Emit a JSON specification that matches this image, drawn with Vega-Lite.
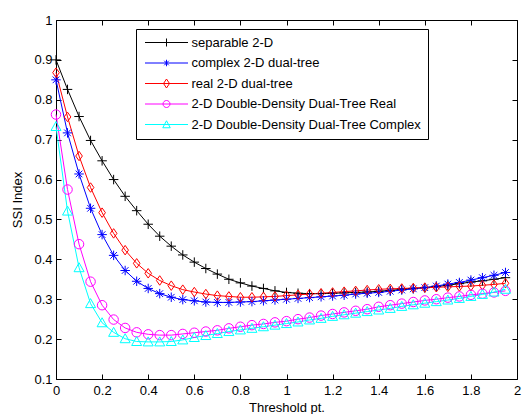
{
  "$schema": "https://vega.github.io/schema/vega-lite/v6.json",
  "width": 461,
  "height": 359,
  "autosize": {"type": "none"},
  "padding": {"left": 56, "top": 20, "right": 5, "bottom": 35},
  "background": "white",
  "config": {"view": {"stroke": "#000", "strokeWidth": 1}},
  "data": {"values": [
    {"t": 0, "a": 0.900, "b": 0.850, "c": 0.868, "d": 0.763, "e": 0.733},
    {"t": 0.05, "a": 0.826, "b": 0.717, "c": 0.757, "d": 0.575, "e": 0.521},
    {"t": 0.1, "a": 0.758, "b": 0.614, "c": 0.659, "d": 0.438, "e": 0.379},
    {"t": 0.15, "a": 0.698, "b": 0.528, "c": 0.580, "d": 0.344, "e": 0.289},
    {"t": 0.2, "a": 0.647, "b": 0.462, "c": 0.517, "d": 0.285, "e": 0.241},
    {"t": 0.25, "a": 0.600, "b": 0.410, "c": 0.465, "d": 0.249, "e": 0.217},
    {"t": 0.3, "a": 0.558, "b": 0.372, "c": 0.423, "d": 0.228, "e": 0.201},
    {"t": 0.35, "a": 0.522, "b": 0.345, "c": 0.390, "d": 0.217, "e": 0.194},
    {"t": 0.4, "a": 0.488, "b": 0.327, "c": 0.365, "d": 0.212, "e": 0.193},
    {"t": 0.45, "a": 0.458, "b": 0.314, "c": 0.347, "d": 0.210, "e": 0.193},
    {"t": 0.5, "a": 0.433, "b": 0.305, "c": 0.334, "d": 0.210, "e": 0.194},
    {"t": 0.55, "a": 0.411, "b": 0.299, "c": 0.324, "d": 0.213, "e": 0.198},
    {"t": 0.6, "a": 0.393, "b": 0.296, "c": 0.318, "d": 0.216, "e": 0.204},
    {"t": 0.65, "a": 0.377, "b": 0.293, "c": 0.313, "d": 0.219, "e": 0.209},
    {"t": 0.7, "a": 0.363, "b": 0.292, "c": 0.309, "d": 0.222, "e": 0.214},
    {"t": 0.75, "a": 0.350, "b": 0.292, "c": 0.307, "d": 0.227, "e": 0.219},
    {"t": 0.8, "a": 0.341, "b": 0.293, "c": 0.305, "d": 0.231, "e": 0.223},
    {"t": 0.85, "a": 0.333, "b": 0.294, "c": 0.305, "d": 0.235, "e": 0.227},
    {"t": 0.9, "a": 0.327, "b": 0.296, "c": 0.306, "d": 0.238, "e": 0.231},
    {"t": 0.95, "a": 0.321, "b": 0.298, "c": 0.307, "d": 0.242, "e": 0.235},
    {"t": 1.0, "a": 0.317, "b": 0.300, "c": 0.309, "d": 0.245, "e": 0.239},
    {"t": 1.05, "a": 0.315, "b": 0.302, "c": 0.311, "d": 0.250, "e": 0.243},
    {"t": 1.1, "a": 0.314, "b": 0.304, "c": 0.313, "d": 0.254, "e": 0.248},
    {"t": 1.15, "a": 0.314, "b": 0.306, "c": 0.315, "d": 0.259, "e": 0.252},
    {"t": 1.2, "a": 0.315, "b": 0.308, "c": 0.317, "d": 0.263, "e": 0.257},
    {"t": 1.25, "a": 0.316, "b": 0.310, "c": 0.319, "d": 0.267, "e": 0.261},
    {"t": 1.3, "a": 0.317, "b": 0.313, "c": 0.321, "d": 0.271, "e": 0.265},
    {"t": 1.35, "a": 0.318, "b": 0.315, "c": 0.323, "d": 0.275, "e": 0.269},
    {"t": 1.4, "a": 0.320, "b": 0.317, "c": 0.325, "d": 0.281, "e": 0.273},
    {"t": 1.45, "a": 0.322, "b": 0.320, "c": 0.326, "d": 0.285, "e": 0.277},
    {"t": 1.5, "a": 0.325, "b": 0.323, "c": 0.327, "d": 0.289, "e": 0.282},
    {"t": 1.55, "a": 0.327, "b": 0.326, "c": 0.328, "d": 0.293, "e": 0.286},
    {"t": 1.6, "a": 0.329, "b": 0.329, "c": 0.329, "d": 0.297, "e": 0.290},
    {"t": 1.65, "a": 0.332, "b": 0.333, "c": 0.330, "d": 0.300, "e": 0.294},
    {"t": 1.7, "a": 0.335, "b": 0.338, "c": 0.331, "d": 0.304, "e": 0.298},
    {"t": 1.75, "a": 0.339, "b": 0.342, "c": 0.332, "d": 0.307, "e": 0.302},
    {"t": 1.8, "a": 0.343, "b": 0.348, "c": 0.333, "d": 0.311, "e": 0.307},
    {"t": 1.85, "a": 0.346, "b": 0.354, "c": 0.335, "d": 0.314, "e": 0.312},
    {"t": 1.9, "a": 0.350, "b": 0.360, "c": 0.337, "d": 0.317, "e": 0.318},
    {"t": 1.95, "a": 0.354, "b": 0.367, "c": 0.340, "d": 0.321, "e": 0.325}
  ]},
  "transform": [{"fold": ["a", "b", "c", "d", "e"], "as": ["s", "v"]}],
  "encoding": {
    "x": {"field": "t", "type": "quantitative",
      "scale": {"domain": [0, 2], "nice": false, "zero": false}},
    "y": {"field": "v", "type": "quantitative",
      "scale": {"domain": [0.1, 1], "nice": false, "zero": false}},
    "color": {"field": "s", "type": "nominal",
      "scale": {"domain": ["a", "b", "c", "d", "e"], "range": ["#000000", "#0000ff", "#ff0000", "#ff00ff", "#00ffff"]}}
  },
  "layer": [
    {
      "mark": {"type": "line", "strokeWidth": 1},
      "encoding": {
        "x": {"field": "t", "type": "quantitative",
          "scale": {"domain": [0, 2], "nice": false, "zero": false},
          "axis": {"orient": "bottom", "values": [0, 0.2, 0.4, 0.6, 0.8, 1, 1.2, 1.4, 1.6, 1.8, 2], "format": "~g",
            "title": "Threshold pt.", "tickSize": -5, "labelPadding": 10, "domain": false, "grid": false,
            "tickColor": "#000", "labelFont": "Liberation Sans", "labelFontSize": 13, "labelColor": "#000",
            "labelFlush": false, "labelOverlap": false,
            "titleFont": "Liberation Sans", "titleFontSize": 13, "titleFontWeight": "normal", "titleColor": "#000", "titlePadding": 4}},
        "y": {"field": "v", "type": "quantitative",
          "scale": {"domain": [0.1, 1], "nice": false, "zero": false},
          "axis": {"orient": "left", "values": [0.1, 0.2, 0.3, 0.4, 0.5, 0.6, 0.7, 0.8, 0.9, 1], "format": "~g",
            "title": "SSI Index", "tickSize": -5, "labelPadding": 9, "domain": false, "grid": false,
            "tickColor": "#000", "labelFont": "Liberation Sans", "labelFontSize": 13, "labelColor": "#000",
            "labelFlush": false, "labelOverlap": false,
            "titleFont": "Liberation Sans", "titleFontSize": 13, "titleFontWeight": "normal", "titleColor": "#000", "titlePadding": 9}},
        "color": {"field": "s", "type": "nominal",
          "legend": {
            "orient": "none", "legendX": 80, "legendY": 9, "title": null,
            "strokeColor": "#000", "fillColor": "#fff", "padding": 7,
            "symbolSize": 100, "symbolStrokeWidth": 1, "symbolType": "M-1,0L1,0", "symbolOffset": 17,
            "labelFont": "Liberation Sans", "labelFontSize": 13, "labelColor": "#000", "labelOffset": 18.5,
            "labelLimit": 0, "rowPadding": 6.5,
            "labelExpr": "datum.value == 'a' ? 'separable 2-D' : datum.value == 'b' ? '\u00a0complex 2-D dual-tree' : datum.value == 'c' ? '\u00a0real 2-D dual-tree' : datum.value == 'd' ? '2-D Double-Density Dual-Tree Real' : '2-D Double-Density Dual-Tree Complex'",
            "encode": {"symbols": {"update": {
              "shape": {"signal": "datum.value == 'a' ? 'M-4.3,0L4.3,0M0,-0.8L0,0.8' : datum.value == 'b' ? 'M-4.3,0L4.3,0M0,-0.65L0,0.65M-0.45,-0.45L0.45,0.45M-0.45,0.45L0.45,-0.45' : datum.value == 'c' ? 'M-4.3,0L4.3,0M0,-0.9L0.6,0L0,0.9L-0.6,0Z' : datum.value == 'd' ? 'M-4.3,0L4.3,0M0.7,0A0.7,0.7,0,1,1,-0.7,0A0.7,0.7,0,1,1,0.7,0' : 'M-4.3,0L4.3,0M0,-0.75L0.75,0.65L-0.75,0.65Z'"},
              "fill": {"value": "transparent"},
              "opacity": {"value": 1}
            }}}
          }}
      }
    },
    {
      "transform": [{"filter": {"field": "s", "equal": "a"}}],
      "mark": {"type": "point", "filled": false, "size": 90, "strokeWidth": 1, "opacity": 1, "shape": "M-1,0L1,0M0,-1L0,1"},
      "encoding": {
        "x": {"field": "t", "type": "quantitative",
          "scale": {"domain": [0, 2], "nice": false, "zero": false},
          "axis": {"orient": "top", "values": [0, 0.2, 0.4, 0.6, 0.8, 1, 1.2, 1.4, 1.6, 1.8, 2], "labels": false, "title": null,
            "tickSize": -5, "domain": false, "grid": false, "tickColor": "#000"}},
        "y": {"field": "v", "type": "quantitative",
          "scale": {"domain": [0.1, 1], "nice": false, "zero": false},
          "axis": {"orient": "right", "values": [0.1, 0.2, 0.3, 0.4, 0.5, 0.6, 0.7, 0.8, 0.9, 1], "labels": false, "title": null,
            "tickSize": -5, "domain": false, "grid": false, "tickColor": "#000"}}
      }
    },
    {
      "transform": [{"filter": {"field": "s", "equal": "b"}}],
      "mark": {"type": "point", "filled": false, "size": 90, "strokeWidth": 1, "opacity": 1, "shape": "M-1,0L1,0M0,-1L0,1M-0.7,-0.7L0.7,0.7M-0.7,0.7L0.7,-0.7"},
      "encoding": {"x": {"field": "t", "type": "quantitative", "axis": null}, "y": {"field": "v", "type": "quantitative", "axis": null}}
    },
    {
      "transform": [{"filter": {"field": "s", "equal": "c"}}],
      "mark": {"type": "point", "filled": false, "size": 90, "strokeWidth": 1, "opacity": 1, "shape": "M0,-1L0.7,0L0,1L-0.7,0Z"},
      "encoding": {"x": {"field": "t", "type": "quantitative", "axis": null}, "y": {"field": "v", "type": "quantitative", "axis": null}}
    },
    {
      "transform": [{"filter": {"field": "s", "equal": "d"}}],
      "mark": {"type": "point", "filled": false, "size": 90, "strokeWidth": 1, "opacity": 1, "shape": "M1,0A1,1,0,1,1,-1,0A1,1,0,1,1,1,0"},
      "encoding": {"x": {"field": "t", "type": "quantitative", "axis": null}, "y": {"field": "v", "type": "quantitative", "axis": null}}
    },
    {
      "transform": [{"filter": {"field": "s", "equal": "e"}}],
      "mark": {"type": "point", "filled": false, "size": 100, "strokeWidth": 1, "opacity": 1, "shape": "M0,-1L1,0.8L-1,0.8Z"},
      "encoding": {"x": {"field": "t", "type": "quantitative", "axis": null}, "y": {"field": "v", "type": "quantitative", "axis": null}}
    }
  ],
  "resolve": {"axis": {"x": "independent", "y": "independent"}}
}
